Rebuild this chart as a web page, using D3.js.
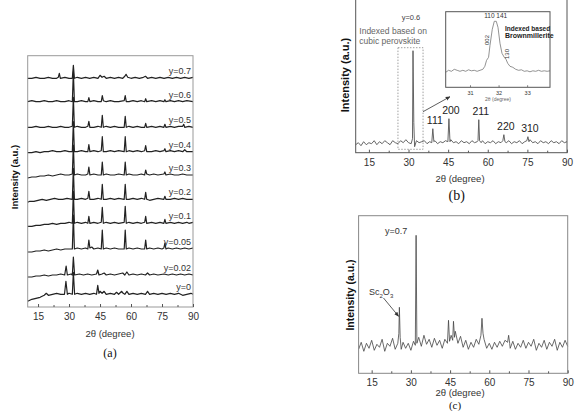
<!DOCTYPE html>
<html>
<head>
<meta charset="utf-8">
<script src="https://cdn.jsdelivr.net/npm/d3@7"></script>
<style>
  body { margin: 0; background: #fff; }
  svg { display: block; font-family: "Liberation Sans", Arial, sans-serif; }
  .tick text { fill: #333; }
  .domain { display: none; }
</style>
</head>
<body>
<svg id="fig" width="579" height="411"></svg>
<script>
// ---- panel (a) : stacked patterns, [2theta, intensity] ----
var aLabels = ["y=0", "y=0.02", "y=0.05", "y=0.1", "y=0.2", "y=0.3", "y=0.4", "y=0.5", "y=0.6", "y=0.7"];
var aOffsets = [12.7, 32, 58, 83.7, 107.7, 132, 155.3, 179.7, 205.3, 228.7];
var a00 = [[10,-7],[12,-5],[14,-4],[16,-3],[18,-1],[19,1],[20,-1],[22,0],[24,1],[26,0],[27.8,0],[28.5,13],[29.2,0],[30,1],[31.6,0],[32.1,22],[32.7,0],[34,1],[36,0],[38,1],[40,0],[42,1],[43.3,0],[43.9,9],[44.5,1],[45,3],[46,1],[47,3],[48,0],[50,1],[52,0],[53,2],[54,0],[55.5,3],[56.2,1],[57,0],[58,3],[59,0],[61,1],[63,0],[65,1],[67,0],[68,3],[69,0],[71,1],[73,0],[75,1],[77,0],[79,1],[81,0],[83,1],[85,-1],[87,0],[89,1],[90,0]];
var a02 = [[10,-2],[12,-2],[14,-1],[16,-1],[18,0],[20,-1],[22,0],[24,0],[26,1],[27.9,0],[28.6,9],[29.2,0],[31,1],[31.6,0],[32.1,18],[32.7,0],[35,1],[37,0],[39,1],[41,0],[43.3,1],[43.9,5],[44.5,0],[46,1],[47,2],[48,0],[50,1],[52,0],[54,1],[56,2],[57,0],[58,3],[59,0],[61,1],[63,0],[65,1],[67,0],[68,2],[69,0],[71,1],[73,0],[76,1],[78,0],[80,1],[82,0],[84,1],[86,0],[88,1],[90,0]];
var a05 = [[10,-3],[12,-3],[14,-2],[16,-2],[18,-1],[20,-2],[22,-1],[24,0],[26,-1],[28,0],[30,0],[31.6,0],[32.1,34],[32.6,0],[34,1],[36,0],[38,1],[39.1,0],[39.6,9],[40.1,1],[41,2],[42,0],[44,1],[45.6,0],[46.1,19],[46.6,0],[48,1],[50,0],[52,1],[54,0],[56.7,0],[57.2,19],[57.7,0],[59,1],[61,0],[63,1],[65,0],[66.6,0],[67.1,9],[67.6,0],[69,1],[71,0],[73,1],[75,0],[75.9,1],[76.4,6],[76.9,0],[78,1],[80,0],[82,1],[84,0],[86,1],[88,0],[90,1]];
var a10 = [[10,-3],[12,-3],[14,-2],[16,-2],[18,-1],[20,-1],[22,0],[24,-1],[26,0],[28,0],[30,1],[31.6,0],[32.1,32],[32.6,0],[34,1],[36,0],[38,1],[39.1,0],[39.6,7],[40.1,0],[42,1],[44,0],[45.6,1],[46.1,16],[46.6,0],[48,1],[50,0],[52,1],[54,0],[56.7,1],[57.2,17],[57.7,0],[59,1],[61,0],[63,1],[65,0],[66.6,1],[67.1,7],[67.6,0],[70,1],[72,0],[74,1],[75.9,0],[76.4,4],[76.9,0],[79,1],[81,0],[83,1],[85,0],[87,1],[88,0],[90,1]];
var a20 = [[10,-3],[11,-2],[13,-2],[15,-1],[17,0],[19,-1],[21,0],[23,1],[25,0],[27,0],[29,1],[31.6,0],[32.1,31],[32.6,0],[34,0],[36,1],[38,0],[39.1,1],[39.6,8],[40.1,0],[42,0],[44,1],[45.6,0],[46.1,15],[46.6,0],[48,0],[50,1],[52,0],[54,1],[56.7,0],[57.2,15],[57.7,0],[59,0],[61,1],[63,0],[65,1],[66.6,0],[67.1,7],[67.6,0],[69,-1],[71,0],[73,1],[75.9,0],[76.4,3],[76.9,0],[79,0],[81,1],[83,0],[85,1],[87,0],[90,0]];
var a30 = [[10,-3],[12,-2],[14,-2],[16,-1],[18,-1],[20,0],[22,-1],[24,0],[26,1],[28,0],[30,0],[31.6,1],[32.1,30],[32.6,0],[34,1],[36,0],[38,0],[39.1,1],[39.6,8],[40.1,0],[42,1],[44,0],[45.6,0],[46.1,13],[46.6,0],[48,1],[50,0],[52,0],[54,1],[56.7,0],[57.2,13],[57.7,0],[59,1],[61,0],[63,0],[65,1],[66.6,0],[67.1,5],[67.6,1],[69,0],[71,1],[73,0],[75.9,1],[76.4,3],[76.9,0],[79,1],[81,0],[83,0],[85,1],[87,0],[90,0]];
var a40 = [[10,-1],[12,-1],[14,0],[16,-1],[18,0],[20,0],[22,1],[24,0],[26,0],[28,1],[30,0],[31.6,0],[32.1,30],[32.6,0],[34,0],[36,1],[38,0],[39.1,0],[39.6,7],[40.1,0],[42,1],[44,0],[45.6,1],[46.1,15],[46.6,0],[48,0],[50,1],[52,0],[54,1],[56.7,0],[57.2,15],[57.7,0],[59,1],[61,0],[63,1],[65,0],[66.6,1],[67.1,6],[67.6,0],[70,0],[72,1],[74,0],[75.9,1],[76.4,3],[76.9,0],[79,1],[81,0],[83,1],[85,0],[86,2],[87,0],[90,0]];
var a50 = [[10,0],[12,0],[14,1],[16,0],[18,0],[20,1],[22,0],[24,0],[26,1],[28,0],[30,0],[31.6,1],[32.1,30],[32.6,0],[34,1],[36,0],[38,0],[39.1,1],[39.6,6],[40.1,0],[42,0],[44,1],[45.6,0],[46.1,12],[46.6,0],[48,1],[50,0],[52,1],[54,0],[56.7,0],[57.2,11],[57.7,0],[59,1],[61,0],[63,1],[65,0],[66.6,0],[67.1,4],[67.6,0],[70,1],[72,0],[74,1],[75.9,0],[76.4,3],[76.9,0],[79,1],[81,0],[83,1],[85,1],[85.5,3],[86,0],[88,1],[90,0]];
var a60 = [[10,0],[12,1],[14,0],[16,0],[18,1],[20,0],[22,0],[24,1],[26,0],[28,0],[30,1],[31.6,0],[32.1,30],[32.6,0],[34,0],[36,1],[38,0],[39.1,0],[39.6,4],[40.1,0],[42,1],[44,0],[45.6,0],[46.1,6],[46.6,1],[48,0],[50,1],[52,0],[54,0],[56.7,1],[57.2,6],[57.7,0],[59,0],[61,1],[63,0],[65,1],[66.6,0],[67.1,3],[67.6,0],[70,1],[72,0],[74,1],[75.9,0],[76.4,2],[76.9,0],[79,1],[81,0],[83,1],[85,0],[87,1],[90,0]];
var a70 = [[10,0],[12,0],[14,1],[16,0],[18,0],[20,1],[22,0],[24,0],[24.8,1],[25.3,5],[25.8,0],[28,1],[30,0],[31.6,0],[32.1,13],[32.6,0],[34,1],[36,0],[38,1],[40,0],[42,1],[44,0],[45,3],[46,1],[47,2],[48,0],[50,1],[52,0],[54,1],[56,0],[57,2],[57.6,4],[58.4,1],[60,0],[62,1],[64,0],[66,1],[67,2],[68,0],[70,1],[72,0],[74,1],[76,0],[78,1],[80,0],[82,1],[84,0],[86,1],[88,0],[90,1]];
var aTraces = [a00, a02, a05, a10, a20, a30, a40, a50, a60, a70];

// ---- panel (b) : y=0.6 pattern ----
var bTrace = [[10,8],[11,10],[12,7],[13,11],[14,8],[15,10],[16,9],[17,12],[18,8],[19,11],[20,9],[21,12],[22,10],[23,8],[24,12],[25,10],[26,9],[27,12],[28,10],[29,13],[30,10],[31,9],[31.5,14],[31.7,102],[32,30],[32.3,6],[33,12],[34,10],[35,11],[36,12],[37,9],[38,11],[38.8,10],[39.2,24],[39.6,11],[40,12],[41,9],[42,11],[43,10],[44,12],[44.9,11],[45.3,34],[45.7,11],[46,13],[47,10],[48,11],[49,9],[50,12],[51,10],[52,11],[53,9],[54,12],[55,10],[56,11],[56.3,12],[56.6,33],[56.9,12],[57.5,10],[58,12],[59,9],[60,11],[61,10],[62,12],[63,9],[64,11],[65,10],[65.7,12],[66.1,18],[66.5,11],[67,10],[68,12],[69,9],[70,11],[71,10],[72,12],[73,9],[74,11],[74.8,12],[75.2,16],[75.6,11],[76,13],[77,10],[78,11],[79,9],[80,12],[81,10],[82,11],[83,9],[84,12],[85,10],[86,11],[87,9],[88,12],[89,10],[90,11]];
var bHkl = ["111", "200", "211", "220", "310"];
var bHklPos = [39.2, 45.3, 56.6, 66.1, 75.2];
var bHklTop = [24, 34, 33, 18, 16];

// inset (b): zoom on the 32 degree reflection
var insetTrace = [[30.15,15],[30.25,17],[30.35,16],[30.45,18],[30.55,17],[30.65,16],[30.75,17],[30.85,16],[30.95,17.5],[31.05,16.5],[31.15,17],[31.25,16],[31.35,17],[31.45,18],[31.52,21],[31.58,27],[31.65,30],[31.7,42],[31.78,58],[31.85,66],[31.92,66],[31.98,60],[32.05,44],[32.12,34],[32.2,30],[32.26,28],[32.32,24],[32.4,21],[32.5,20],[32.6,18],[32.7,17],[32.8,17.5],[32.9,16],[33.0,16.5],[33.1,15.5],[33.2,16.5],[33.3,16],[33.4,17],[33.5,16],[33.6,16.5],[33.7,16],[33.8,16.5]];
var insetTicks = [31, 32, 33];

// ---- panel (c) : y=0.7 pattern ----
var cTrace = [[10,24],[11,31],[12,22],[13,30],[14,25],[15,33],[16,23],[17,29],[18,26],[19,34],[20,22],[21,30],[22,27],[23,35],[24,24],[25,30],[25.4,40],[25.6,66],[25.9,36],[26.3,24],[27,31],[28,25],[29,30],[30,23],[31,32],[31.7,28],[32,138],[32.3,30],[33,36],[34,27],[35,38],[36,29],[37,34],[38,26],[39,35],[40,28],[41,33],[42,25],[43,34],[44,30],[44.4,53],[44.8,32],[45.4,38],[46,33],[46.3,52],[46.7,36],[47,42],[48,30],[49,37],[50,26],[51,33],[52,24],[53,31],[54,26],[55,34],[56,29],[56.8,38],[57.2,55],[57.6,40],[58,34],[59,25],[60,30],[61,24],[62,31],[63,26],[64,32],[65,27],[66,33],[67,31],[67.4,38],[67.8,30],[68,25],[69,32],[70,24],[71,30],[72,26],[73,33],[74,25],[75,31],[76,27],[77,34],[78,23],[79,30],[80,26],[81,33],[82,24],[83,31],[84,27],[85,34],[86,23],[87,31],[88,26],[89,33],[90,27]];

var xTicks = [15, 30, 45, 60, 75, 90];
var xMinor = [22.5, 37.5, 52.5, 67.5, 82.5];

var svg = d3.select("#fig");

function frame(box, stroke){
  svg.append("rect")
    .attr("x", box.x0).attr("y", box.y0)
    .attr("width", box.x1 - box.x0).attr("height", box.y1 - box.y0)
    .attr("fill", "none").attr("stroke", stroke).attr("stroke-width", 1);
}

function bottomAxis(box, x, fs){
  var g = svg.append("g").attr("transform", "translate(0," + box.y1 + ")");
  g.call(d3.axisBottom(x).tickValues(xTicks).tickSize(-3).tickPadding(6))
    .selectAll("text").style("font-size", fs + "px");
  g.selectAll("line").attr("stroke", "#555");
  var m = svg.append("g").attr("transform", "translate(0," + box.y1 + ")");
  m.call(d3.axisBottom(x).tickValues(xMinor).tickSize(-2).tickFormat(""));
  m.selectAll("line").attr("stroke", "#555");
}

function yTitle(xc, yc, fs){
  svg.append("text")
    .attr("transform", "translate(" + xc + "," + yc + ") rotate(-90)")
    .attr("text-anchor", "middle").attr("dy", "0.35em")
    .style("font-size", fs + "px").style("font-weight", "bold").attr("fill", "#111")
    .text("Intensity (a.u.)");
}

function xTitle(xc, yc, fs){
  svg.append("text").attr("x", xc).attr("y", yc).attr("dy", "0.35em")
    .attr("text-anchor", "middle").style("font-size", fs + "px").attr("fill", "#333")
    .text("2\u03b8 (degree)");
}

function caption(xc, yc, s, fs){
  svg.append("text").attr("x", xc).attr("y", yc).attr("dy", "0.35em")
    .attr("text-anchor", "middle").style("font-family", "'Liberation Serif', serif")
    .style("font-size", fs + "px").attr("fill", "#111").text(s);
}

// ================= (a) =================
var boxA = {x0: 27.7, x1: 193, y0: 55.7, y1: 307};
var xA = d3.scaleLinear().domain([10, 90]).range([boxA.x0, boxA.x1]);
var yA = d3.scaleLinear().domain([0, 251.3]).range([boxA.y1, boxA.y0]);

aTraces.forEach(function(t, i){
  var line = d3.line()
    .x(function(d){ return xA(d[0]); })
    .y(function(d){ return yA(d[1] + aOffsets[i]); });
  svg.append("path").datum(t)
    .attr("d", line).attr("fill", "none")
    .attr("stroke", "#222").attr("stroke-width", 1.2).attr("stroke-linejoin", "round");
  svg.append("text")
    .attr("x", boxA.x1 - 2).attr("y", yA(aOffsets[i] + 4))
    .attr("text-anchor", "end").style("font-size", "9px").attr("fill", "#333")
    .text(aLabels[i]);
});
frame(boxA, "#999");
bottomAxis(boxA, xA, 10);
yTitle(15, 177, 9.5);
xTitle(110, 334, 9.5);
caption(110, 353, "(a)", 12);

// ================= (b) =================
var boxB = {x0: 355.7, x1: 567, y0: -1, y1: 152.7};
var xB = d3.scaleLinear().domain([10, 90]).range([boxB.x0, boxB.x1]);
var yB = d3.scaleLinear().domain([0, 102]).range([boxB.y1, 50.7]);

svg.append("path").datum(bTrace)
  .attr("d", d3.line().x(function(d){ return xB(d[0]); }).y(function(d){ return yB(d[1]); }))
  .attr("fill", "none").attr("stroke", "#555").attr("stroke-width", 0.9);

bHkl.forEach(function(s, i){
  svg.append("text")
    .attr("x", xB(bHklPos[i]) + 2).attr("y", yB(bHklTop[i] + 5))
    .attr("text-anchor", "middle").style("font-size", "10.5px").attr("fill", "#222")
    .text(s);
});

// dashed selection round the 32 degree peak
svg.append("rect")
  .attr("x", xB(26)).attr("y", yB(105))
  .attr("width", xB(35.5) - xB(26)).attr("height", yB(3.4) - yB(105))
  .attr("fill", "none").attr("stroke", "#888").attr("stroke-width", 0.8)
  .attr("stroke-dasharray", "1.5,1.5");

svg.append("text").attr("x", 359.3).attr("y", 34).style("font-size", "8.5px").attr("fill", "#666")
  .text("Indexed based on");
svg.append("text").attr("x", 359.3).attr("y", 44).style("font-size", "8.5px").attr("fill", "#666")
  .text("cubic perovskite");
svg.append("text").attr("x", 401.7).attr("y", 19.5).style("font-size", "7.5px").attr("fill", "#444")
  .text("y=0.6");

// arrow to inset
svg.append("defs").append("marker")
  .attr("id", "arr").attr("viewBox", "0 0 10 10").attr("refX", 9).attr("refY", 5)
  .attr("markerWidth", 6).attr("markerHeight", 6).attr("orient", "auto")
  .append("path").attr("d", "M0,1 L10,5 L0,9 z").attr("fill", "#333");
svg.append("line")
  .attr("x1", xB(35.5)).attr("y1", yB(41)).attr("x2", 450).attr("y2", 96.7)
  .attr("stroke", "#333").attr("stroke-width", 0.8).attr("marker-end", "url(#arr)");

// inset
var boxI = {x0: 445.7, x1: 550, y0: 11.7, y1: 87.3};
var xI = d3.scaleLinear().domain([30.15, 33.8]).range([boxI.x0, boxI.x1]);
var yI = d3.scaleLinear().domain([0, 75.6]).range([boxI.y1, boxI.y0]);
svg.append("path").datum(insetTrace)
  .attr("d", d3.line().x(function(d){ return xI(d[0]); }).y(function(d){ return yI(d[1]); }))
  .attr("fill", "none").attr("stroke", "#777").attr("stroke-width", 0.8);
frame(boxI, "#555");
var gi = svg.append("g").attr("transform", "translate(0," + boxI.y1 + ")");
gi.call(d3.axisBottom(xI).tickValues(insetTicks).tickSize(-2).tickPadding(4).tickFormat(d3.format("d")))
  .selectAll("text").style("font-size", "5.5px");
gi.selectAll("line").attr("stroke", "#777");
svg.append("text").attr("x", 498).attr("y", 101).attr("text-anchor", "middle")
  .style("font-size", "5px").attr("fill", "#666").text("2\u03b8 (degree)");
svg.append("text").attr("x", xI(31.9)).attr("y", 17.5).attr("text-anchor", "middle")
  .style("font-size", "6.5px").attr("fill", "#333").text("110 141");
svg.append("text").attr("transform", "translate(" + xI(31.68) + ",40) rotate(-90)")
  .attr("text-anchor", "middle").style("font-size", "6px").attr("fill", "#333").text("002");
svg.append("text").attr("transform", "translate(" + xI(32.35) + ",54) rotate(-90)")
  .attr("text-anchor", "middle").style("font-size", "6px").attr("fill", "#333").text("130");
svg.append("text").attr("x", 505).attr("y", 30.5).style("font-size", "6.5px")
  .style("font-weight", "bold").attr("fill", "#222").text("Indexed based");
svg.append("text").attr("x", 505).attr("y", 38).style("font-size", "7px")
  .style("font-weight", "bold").attr("fill", "#222").text("Brownmillerite");

frame(boxB, "#555");
bottomAxis(boxB, xB, 10);
yTitle(345, 75, 11);
xTitle(460, 179, 9.5);
caption(456.7, 195, "(b)", 14);

// ================= (c) =================
var boxC = {x0: 358.6, x1: 567.7, y0: 215.7, y1: 373.3};
var xC = d3.scaleLinear().domain([10, 90]).range([boxC.x0, boxC.x1]);
var yC = d3.scaleLinear().domain([0, 157.6]).range([boxC.y1, boxC.y0]);

svg.append("path").datum(cTrace)
  .attr("d", d3.line().x(function(d){ return xC(d[0]); }).y(function(d){ return yC(d[1]); }))
  .attr("fill", "none").attr("stroke", "#444").attr("stroke-width", 0.8);

svg.append("text").attr("x", 385).attr("y", 234).style("font-size", "9px").attr("fill", "#333")
  .text("y=0.7");
var sc = svg.append("text").attr("x", 369).attr("y", 295).style("font-size", "9px").attr("fill", "#333");
sc.append("tspan").text("Sc");
sc.append("tspan").attr("dy", 2.5).style("font-size", "6px").text("2");
sc.append("tspan").attr("dy", -2.5).text("O");
sc.append("tspan").attr("dy", 2.5).style("font-size", "6px").text("3");
svg.append("line")
  .attr("x1", 383.5).attr("y1", 298).attr("x2", xC(25.3)).attr("y2", yC(57))
  .attr("stroke", "#333").attr("stroke-width", 0.8).attr("marker-end", "url(#arr)");

frame(boxC, "#888");
bottomAxis(boxC, xC, 10);
yTitle(350, 295, 10.5);
xTitle(460, 393, 9.5);
caption(455, 405, "(c)", 11);
</script>
</body>
</html>
